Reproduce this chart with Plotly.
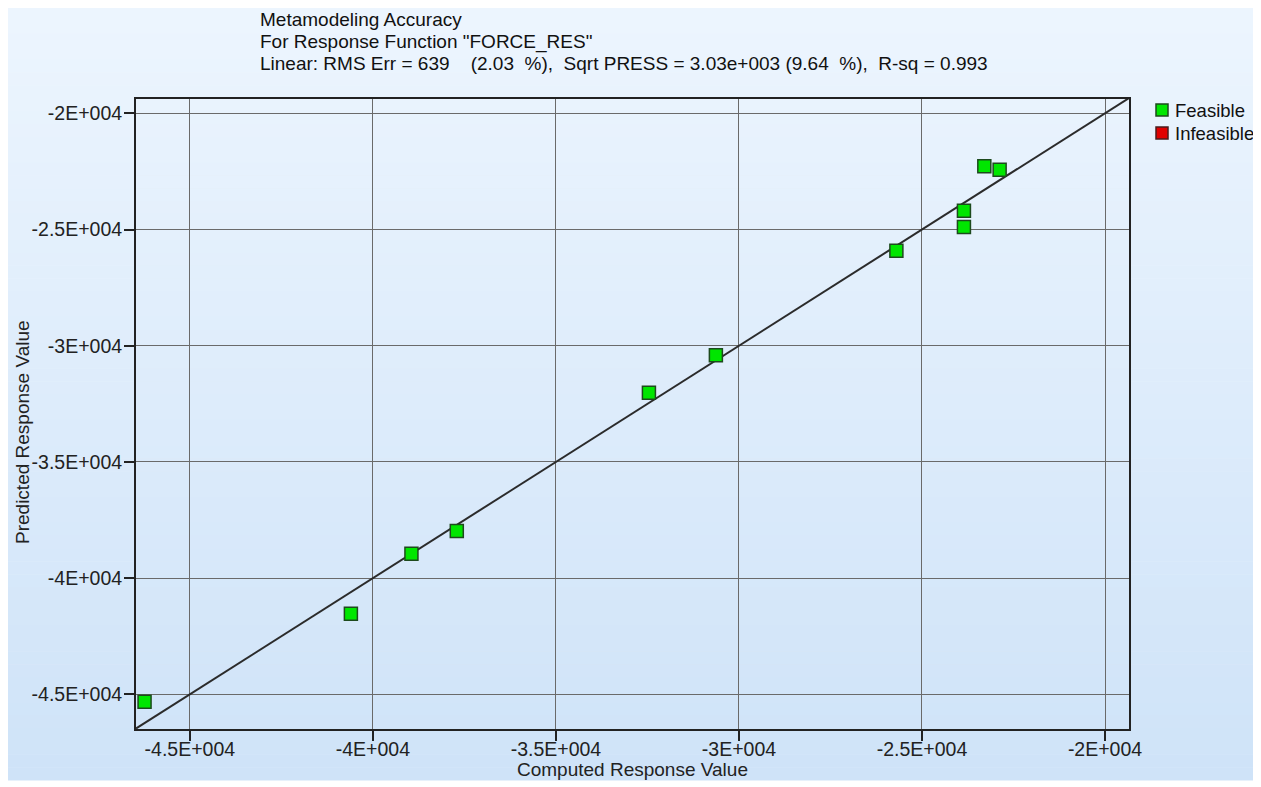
import plotly.graph_objects as go

# Data
computed = [-46236, -40600, -38946, -37707, -32459, -30630, -25699, -23854, -23854, -23297, -22879]
predicted = [-45318, -41532, -38950, -37973, -32022, -30413, -25912, -24892, -24191, -22281, -22427]
tick_vals = [-45000, -40000, -35000, -30000, -25000, -20000]
tick_text = ["-4.5E+004", "-4E+004", "-3.5E+004", "-3E+004", "-2.5E+004", "-2E+004"]
x_range = [-46470, -19345]
y_range = [-46490, -19385]
title_lines = [
    "Metamodeling Accuracy",
    'For Response Function "FORCE_RES"',
    "Linear: RMS Err = 639    (2.03  %),  Sqrt PRESS = 3.03e+003 (9.64  %),  R-sq = 0.993",
]
x_title = "Computed Response Value"
y_title = "Predicted Response Value"
legend_names = ["Feasible", "Infeasible"]
legend_colors = ["#00e600", "#e00000"]
legend_edges = ["#1d4a1d", "#4a1d1d"]

# page body has an 8px margin, so work in reference coords minus 8
OFF = 8
W, H = 1261 - OFF, 787 - OFF
L, R, T, B = 136 - OFF, 1129 - OFF, 99 - OFF, 729 - OFF
pw, ph = R - L, B - T

def px(x):
    return (x - OFF - L) / pw

def py(y):
    return (B - (y - OFF)) / ph

FONT = "Liberation Sans, Arial, sans-serif"

fig = go.Figure()

# diagonal y = x
fig.add_trace(go.Scatter(
    x=[x_range[0], x_range[1]], y=[x_range[0], x_range[1]], mode="lines",
    line=dict(color="#2b2b2b", width=2), showlegend=False, hoverinfo="skip"))

fig.add_trace(go.Scatter(
    x=computed, y=predicted, mode="markers", name=legend_names[0], showlegend=False,
    marker=dict(symbol="square", size=13, color=legend_colors[0],
                line=dict(color=legend_edges[0], width=1.5))))

# gradient background bands (white frame outside)
shapes = []
top_c = (236, 245, 254)
bot_c = (207, 227, 248)
y0p, y1p = 8, 780
n = 60
for i in range(n):
    a = y0p + (y1p - y0p) * i / n
    b = y0p + (y1p - y0p) * (i + 1) / n + 0.5
    t = i / (n - 1)
    c = tuple(int(round(top_c[k] + (bot_c[k] - top_c[k]) * t)) for k in range(3))
    shapes.append(dict(type="rect", xref="paper", yref="paper", layer="below",
                       x0=px(7), x1=px(1255), y0=py(b), y1=py(a),
                       fillcolor="rgb(%d,%d,%d)" % c, line=dict(width=0)))

annotations = []
for i, line in enumerate(title_lines):
    annotations.append(dict(text=line, xref="paper", yref="paper",
                            x=px(258), y=py(19 + i * 22.5), xanchor="left", yanchor="middle",
                            showarrow=False, font=dict(family=FONT, size=19, color="#111111")))
annotations.append(dict(text=x_title, xref="paper", yref="paper", x=px(632), y=py(769),
                        xanchor="center", yanchor="middle", showarrow=False,
                        font=dict(family=FONT, size=19, color="#222222")))
annotations.append(dict(text=y_title, xref="paper", yref="paper", x=px(22), y=py(432),
                        xanchor="center", yanchor="middle", showarrow=False, textangle=-90,
                        font=dict(family=FONT, size=19, color="#222222")))

# manual legend
for i, (name, col, edge) in enumerate(zip(legend_names, legend_colors, legend_edges)):
    yc = 110 + i * 23
    shapes.append(dict(type="rect", xref="paper", yref="paper",
                       xsizemode="pixel", ysizemode="pixel",
                       xanchor=px(1162), yanchor=py(yc), x0=-6, x1=6, y0=-6, y1=6,
                       fillcolor=col, line=dict(color=edge, width=1.5)))
    annotations.append(dict(text=name, xref="paper", yref="paper", x=px(1173), y=py(yc),
                            xanchor="left", yanchor="middle", showarrow=False,
                            font=dict(family=FONT, size=18.5, color="#111111")))

axis_common = dict(tickvals=tick_vals, ticktext=tick_text, automargin=False,
                   showgrid=True, gridcolor="#6a6a6a", gridwidth=1, zeroline=False,
                   showline=True, linecolor="#222222", linewidth=2, mirror=True,
                   ticks="outside", ticklen=10, tickcolor="#222222", tickwidth=1.5,
                   tickfont=dict(family=FONT, size=19.5, color="#222222"))

fig.update_layout(
    width=W, height=H,
    margin=dict(l=L, r=W - R, t=T, b=H - B, autoexpand=False),
    paper_bgcolor="white",
    plot_bgcolor="#e6e6e6",
    shapes=shapes,
    annotations=annotations,
    showlegend=False,
    font=dict(family=FONT, size=19, color="#222222"),
    xaxis=dict(range=x_range, ticklabelstandoff=-8, **axis_common),
    yaxis=dict(range=y_range, ticklabelstandoff=-2, **axis_common),
)

fig.write_html("out.html")
